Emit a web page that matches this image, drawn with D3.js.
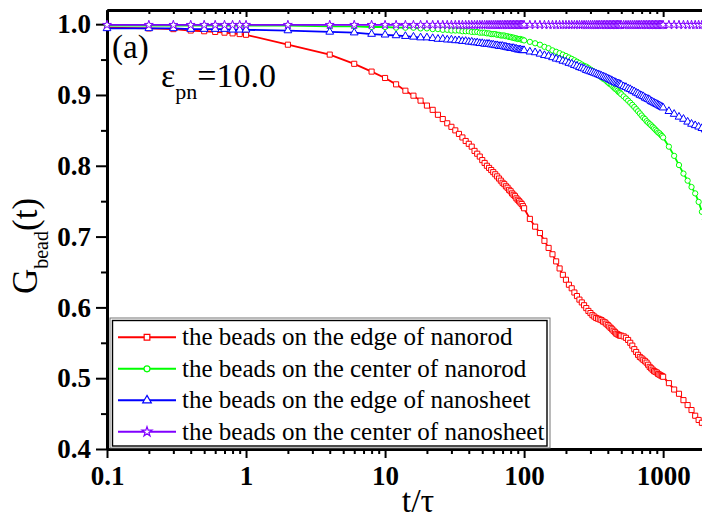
<!DOCTYPE html>
<html>
<head>
<meta charset="utf-8">
<script src="https://cdn.jsdelivr.net/npm/d3@7"></script>
<style>
  html, body { margin: 0; padding: 0; background: #fff; }
  svg { display: block; }
  svg text { font-family: "Liberation Serif", "DejaVu Serif", "Noto Serif", "Times New Roman", Times, serif !important; fill: #000; }
</style>
</head>
<body>
<svg id="chart" width="702" height="519"></svg>
<script>
// Sampling times t/τ: fine steps up to 1, then coarser blocks out to 2000
const tFine  = d3.range(1, 11).map(i => i / 10);     // 0.1 … 1.0
const tEarly = d3.range(2, 101, 2);                  // 2 … 100
const tMid   = d3.range(110, 501, 10);               // 110 … 500
const tLate  = d3.range(520, 1001, 20);              // 520 … 1000
const tTail  = d3.range(1100, 2001, 100);            // 1100 … 2000
const times = [...tFine, ...tEarly, ...tMid, ...tLate, ...tTail];

// G_bead(t) values, in units of 0.001
const edgeNanorod = [
  995, 994, 993, 991, 990, 989, 988, 987, 986, 985,
  971, 957, 944, 933, 924, 915, 906, 899, 892, 885,
  879, 872, 866, 860, 855, 850, 845, 840, 835, 831,
  827, 821, 817, 813, 808, 804, 800, 797, 794, 791,
  788, 785, 782, 779, 776, 774, 771, 769, 766, 764,
  761, 759, 757, 754, 752, 750, 748, 746, 743, 740,
  725, 714, 705, 694, 684, 675, 665, 655, 646, 639,
  632, 627, 621, 616, 611, 607, 603, 599, 595, 592,
  589, 587, 585, 584, 583, 582, 580, 579, 577, 575,
  573, 571, 569, 567, 565, 563, 562, 561, 560, 560,
  559, 557, 554, 550, 546, 541, 537, 533, 530, 528,
  526, 524, 522, 519, 516, 514, 512, 510, 509, 508,
  506, 505, 504, 503, 502,
  493, 484, 478, 469, 462, 455, 447, 441, 437, 433
];

const centerNanorod = [
  998, 998, 998, 998, 998, 998, 998, 998, 998, 998,
  998, 997, 997, 996, 996, 995, 995, 995, 994, 994,
  993, 993, 992, 992, 991, 991, 991, 990, 990, 990,
  989, 989, 989, 988, 988, 988, 987, 987, 986, 986,
  986, 985, 985, 984, 984, 984, 983, 983, 982, 982,
  981, 981, 980, 980, 979, 979, 979, 978, 978, 977,
  975, 973, 971, 968, 966, 963, 961, 959, 957, 955,
  953, 951, 949, 947, 945, 943, 941, 940, 938, 936,
  934, 932, 930, 929, 927, 925, 923, 922, 920, 918,
  916, 915, 913, 911, 909, 908, 906, 904, 903, 901,
  898, 895, 892, 889, 886, 883, 880, 877, 874, 871,
  868, 866, 863, 861, 859, 857, 855, 853, 851, 849,
  847, 846, 844, 842, 840,
  827, 814, 801, 789, 779, 770, 761, 749, 735, 724
];

const edgeNanosheet = [
  994, 994, 994, 993, 993, 993, 993, 992, 992, 992,
  991, 989, 988, 986, 985, 984, 983, 982, 981, 981,
  980, 979, 979, 978, 978, 977, 977, 976, 976, 975,
  975, 974, 974, 973, 973, 972, 972, 972, 971, 971,
  970, 970, 969, 969, 969, 968, 968, 967, 967, 966,
  966, 966, 965, 965, 964, 964, 964, 963, 963, 963,
  961, 960, 958, 956, 955, 953, 951, 950, 948, 947,
  945, 944, 942, 941, 939, 938, 937, 935, 934, 933,
  932, 931, 930, 929, 928, 927, 926, 925, 924, 923,
  922, 921, 920, 919, 918, 917, 916, 916, 915, 914,
  912, 911, 909, 908, 906, 905, 903, 902, 900, 899,
  898, 896, 895, 894, 893, 891, 890, 889, 888, 887,
  886, 885, 884, 883, 882,
  877, 873, 869, 866, 862, 859, 857, 855, 853, 851
];

const centerNanosheet = [
  999, 999, 999, 999, 999, 999, 999, 999, 999, 999,
  999, 999, 999, 999, 999, 999, 999, 999, 999, 999,
  999, 999, 999, 999, 999, 999, 999, 999, 999, 999,
  999, 999, 999, 999, 999, 999, 999, 999, 999, 999,
  999, 999, 999, 999, 999, 999, 999, 999, 999, 999,
  999, 999, 999, 999, 999, 999, 999, 999, 999, 999,
  999, 999, 999, 999, 999, 999, 999, 999, 999, 999,
  999, 999, 999, 999, 999, 999, 999, 999, 999, 999,
  999, 999, 999, 999, 999, 999, 999, 999, 999, 999,
  999, 999, 999, 999, 999, 999, 999, 999, 999, 999,
  999, 999, 999, 999, 999, 999, 999, 999, 999, 999,
  999, 999, 999, 999, 999, 999, 999, 999, 999, 999,
  999, 999, 999, 999, 999,
  999, 999, 999, 999, 999, 999, 999, 999, 999, 999
];

const seriesNames = [
  "the beads on the edge of nanorod",
  "the beads on the center of nanorod",
  "the beads on the edge of nanosheet",
  "the beads on the center of nanosheet"
];
const seriesValues = [edgeNanorod, centerNanorod, edgeNanosheet, centerNanosheet];
const seriesColors = ["#ff0000", "#00ff00", "#0000ff", "#8000ff"];
const seriesSymbols = [d3.symbolSquare, d3.symbolCircle, d3.symbolTriangle, d3.symbolStar];
const symbolSizes = [26, 22, 26, 24];

const xMajorTicks = [0.1, 1, 10, 100, 1000];
const xTickLabels = ["0.1", "1", "10", "100", "1000"];
const yMajorTicks = [0.4, 0.5, 0.6, 0.7, 0.8, 0.9, 1.0];
const yMinorTicks = [0.45, 0.55, 0.65, 0.75, 0.85, 0.95];

seriesValues.forEach((arr, i) => {
  if (arr.length !== times.length) console.error("length mismatch", seriesNames[i], arr.length, times.length);
});

const FONT = "'Liberation Serif','DejaVu Serif','Noto Serif','Times New Roman',Times,serif";

const svg = d3.select("#chart");

const x = d3.scaleLog().domain([0.1, 2000]).range([107, 705]);
const y = d3.scaleLinear().domain([0.4, 1.02]).range([449, 10]);

const xMinorTicks = [];
[0.1, 1, 10, 100, 1000].forEach(dec => {
  for (let k = 2; k <= 9; k++) {
    const v = dec * k;
    if (v <= 2000) xMinorTicks.push(+v.toPrecision(6));
  }
});

// ---- axes ----
function styleAxis(g, width) {
  g.attr("font-family", FONT);
  g.select(".domain").attr("stroke", "#000").attr("stroke-width", width);
  g.selectAll(".tick line").attr("stroke", "#000").attr("stroke-width", 2);
}

// bottom axis: minor ticks, then major ticks with labels
svg.append("g")
  .attr("transform", "translate(0,449)")
  .call(d3.axisBottom(x).tickValues(xMinorTicks).tickSize(5).tickSizeOuter(0).tickFormat(""))
  .call(g => styleAxis(g, 3));

svg.append("g")
  .attr("transform", "translate(0,449)")
  .call(d3.axisBottom(x).tickValues(xMajorTicks).tickSize(9).tickSizeOuter(0).tickPadding(8)
        .tickFormat((d, i) => xTickLabels[i]))
  .call(g => styleAxis(g, 3))
  .call(g => g.selectAll(".tick text")
    .attr("font-family", FONT)
    .attr("font-weight", "bold")
    .attr("font-size", 27)
    .attr("fill", "#000"));

// top frame with inward ticks
svg.append("g")
  .attr("transform", "translate(0,10)")
  .call(d3.axisBottom(x).tickValues(xMinorTicks).tickSize(4).tickSizeOuter(0).tickFormat(""))
  .call(g => styleAxis(g, 3));
svg.append("g")
  .attr("transform", "translate(0,10)")
  .call(d3.axisBottom(x).tickValues(xMajorTicks).tickSize(7).tickSizeOuter(0).tickFormat(""))
  .call(g => styleAxis(g, 3));

// left axis
svg.append("g")
  .attr("transform", "translate(107,0)")
  .call(d3.axisLeft(y).tickValues(yMinorTicks).tickSize(6).tickSizeOuter(0).tickFormat(""))
  .call(g => styleAxis(g, 3));

svg.append("g")
  .attr("transform", "translate(107,0)")
  .call(d3.axisLeft(y).tickValues(yMajorTicks).tickSize(11).tickSizeOuter(0).tickPadding(5)
        .tickFormat(d3.format(".1f")))
  .call(g => styleAxis(g, 3))
  .call(g => g.selectAll(".tick text")
    .attr("font-family", FONT)
    .attr("font-weight", "bold")
    .attr("font-size", 27)
    .attr("fill", "#000"));

// ---- curves ----
const line = d3.line()
  .x(d => x(d.t))
  .y(d => y(d.v));

const plot = svg.append("g");
seriesValues.forEach((vals, i) => {
  const pts = times.map((t, j) => ({ t, v: vals[j] / 1000 }));
  const g = plot.append("g");
  g.append("path")
    .datum(pts)
    .attr("d", line)
    .attr("fill", "none")
    .attr("stroke", seriesColors[i])
    .attr("stroke-width", 1.8);
  const sym = d3.symbol().type(seriesSymbols[i]).size(symbolSizes[i]);
  g.selectAll("path.mk")
    .data(pts)
    .join("path")
    .attr("class", "mk")
    .attr("transform", d => `translate(${x(d.t)},${y(d.v)})`)
    .attr("d", sym)
    .attr("fill", "#fff")
    .attr("stroke", seriesColors[i])
    .attr("stroke-width", 1);
});

// ---- legend ----
const legend = svg.append("g").attr("font-family", FONT);
legend.append("rect")
  .attr("x", 110).attr("y", 318).attr("width", 440).attr("height", 130)
  .attr("fill", "none").attr("stroke", "#777").attr("stroke-width", 1);
legend.append("rect")
  .attr("x", 112.5).attr("y", 320.5).attr("width", 434.5).attr("height", 125.5)
  .attr("fill", "#fff").attr("stroke", "#000").attr("stroke-width", 1.4);

seriesNames.forEach((name, i) => {
  const cy = 337.3 + i * 31.5;
  legend.append("line")
    .attr("x1", 118).attr("x2", 176).attr("y1", cy).attr("y2", cy)
    .attr("stroke", seriesColors[i]).attr("stroke-width", 2);
  legend.append("path")
    .attr("transform", `translate(147,${cy})`)
    .attr("d", d3.symbol().type(seriesSymbols[i]).size(symbolSizes[i] + 6))
    .attr("fill", "#fff").attr("stroke", seriesColors[i]).attr("stroke-width", 1.2);
  legend.append("text")
    .attr("x", 182).attr("y", cy + 8)
    .attr("font-size", 25)
    .text(name);
});

// ---- annotations ----
svg.append("text")
  .attr("x", 112).attr("y", 58)
  .attr("font-family", FONT)
  .attr("font-size", 33)
  .text("(a)");

const eps = svg.append("text").attr("x", 161).attr("y", 87)
  .attr("font-family", FONT).attr("font-size", 34);
eps.append("tspan").text("ε");
eps.append("tspan").attr("font-size", 22).attr("dy", 12).text("pn");
eps.append("tspan").attr("dy", -12).text("=10.0");

// axis titles
svg.append("text")
  .attr("x", 418).attr("y", 512)
  .attr("text-anchor", "middle")
  .attr("font-family", FONT)
  .attr("font-size", 34)
  .text("t/τ");

const yt = svg.append("text")
  .attr("transform", "translate(37,246) rotate(-90)")
  .attr("text-anchor", "middle")
  .attr("font-family", FONT)
  .attr("font-size", 35);
yt.append("tspan").text("G");
yt.append("tspan").attr("font-size", 20).attr("dy", 11).text("bead");
yt.append("tspan").attr("dy", -11).text("(t)");
</script>
</body>
</html>
